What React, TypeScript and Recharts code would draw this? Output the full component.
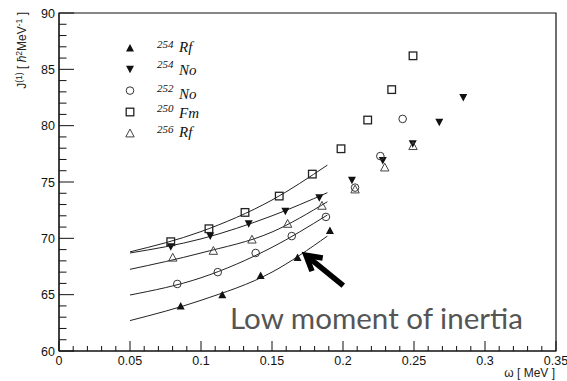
import {
  ComposedChart,
  Legend,
  Line,
  ReferenceArea,
  ReferenceLine,
  Scatter,
  XAxis,
  YAxis,
} from 'recharts'

// ω [MeV], J(1) [ħ² MeV⁻¹]
const rf254: [number, number][] = [
  [0.0857, 64.0], [0.115, 65.0], [0.142, 66.7], [0.168, 68.3], [0.1908, 70.7],
]
const no254: [number, number][] = [
  [0.0787, 69.25], [0.1065, 70.2], [0.1336, 71.3], [0.1594, 72.4], [0.1833, 73.6],
  [0.2063, 75.15], [0.228, 76.9], [0.2491, 78.4], [0.2678, 80.3], [0.2847, 82.5],
]
const no252: [number, number][] = [
  [0.0833, 65.95], [0.1118, 67.0], [0.1385, 68.7], [0.1639, 70.2], [0.188, 71.9],
  [0.2085, 74.5], [0.2263, 77.3], [0.242, 80.6],
]
const fm250: [number, number][] = [
  [0.0787, 69.7], [0.1056, 70.85], [0.131, 72.3], [0.1551, 73.75], [0.1784, 75.7],
  [0.1986, 77.95], [0.2174, 80.5], [0.2343, 83.2], [0.2493, 86.2],
]
const rf256: [number, number][] = [
  [0.0801, 68.3], [0.1087, 68.9], [0.1359, 69.9], [0.161, 71.3], [0.1852, 72.9],
  [0.2085, 74.35], [0.2294, 76.3], [0.2493, 78.2],
]

// fitted curves
const fitRf254: [number, number][] = [[0.05, 62.7], [0.1, 64.5], [0.15, 67.0], [0.189, 70.2]]
const fitNo252: [number, number][] = [[0.05, 64.97], [0.1, 66.5], [0.15, 69.2], [0.189, 72.07]]
const fitRf256: [number, number][] = [[0.05, 67.25], [0.1, 68.7], [0.15, 70.56], [0.189, 73.25]]
const fitNo254: [number, number][] = [[0.05, 68.7], [0.1, 69.95], [0.15, 72.0], [0.189, 74.05]]
const fitFm250: [number, number][] = [[0.05, 68.8], [0.1, 70.6], [0.15, 73.4], [0.189, 76.5]]

const W_MAJOR = [0, 0.05, 0.1, 0.15, 0.2, 0.25, 0.3, 0.35]
const W_TICKS = [
  0, 0.01, 0.02, 0.03, 0.04, 0.05, 0.06, 0.07, 0.08, 0.09, 0.1, 0.11, 0.12,
  0.13, 0.14, 0.15, 0.16, 0.17, 0.18, 0.19, 0.2, 0.21, 0.22, 0.23, 0.24, 0.25,
  0.26, 0.27, 0.28, 0.29, 0.3, 0.31, 0.32, 0.33, 0.34, 0.35,
]
const J_MAJOR = [60, 65, 70, 75, 80, 85, 90]
const J_TICKS = [
  60, 61, 62, 63, 64, 65, 66, 67, 68, 69, 70, 71, 72, 73, 74, 75, 76, 77, 78,
  79, 80, 81, 82, 83, 84, 85, 86, 87, 88, 89, 90,
]

const LEGEND = [
  { mass: '254', el: 'Rf', marker: 'triUp' },
  { mass: '254', el: 'No', marker: 'triDown' },
  { mass: '252', el: 'No', marker: 'circle' },
  { mass: '250', el: 'Fm', marker: 'square' },
  { mass: '256', el: 'Rf', marker: 'triOpen' },
]

const toPts = (arr: [number, number][]) => arr.map(([w, j]) => ({ w, j }))
const isMajor = (list: number[], v: number) => list.some((m) => Math.abs(m - v) < 1e-6)

const AXIS_FONT = '"Liberation Sans", Arial, sans-serif'
const SERIF = '"Liberation Serif", "DejaVu Serif", serif'
const INK = '#111'

function Marker({ kind, cx, cy }: { kind: string; cx: number; cy: number }) {
  if (kind === 'triUp')
    return <polygon points={`${cx - 4},${cy + 3.5} ${cx + 4},${cy + 3.5} ${cx},${cy - 4}`} fill={INK} />
  if (kind === 'triDown')
    return <polygon points={`${cx - 4},${cy - 3.5} ${cx + 4},${cy - 3.5} ${cx},${cy + 4}`} fill={INK} />
  if (kind === 'circle')
    return <circle cx={cx} cy={cy} r={3.8} fill="none" stroke="#333" strokeWidth={1} />
  if (kind === 'square')
    return <rect x={cx - 3.8} y={cy - 3.8} width={7.6} height={7.6} fill="none" stroke="#222" strokeWidth={1.3} />
  return (
    <polygon
      points={`${cx - 4.2},${cy + 3.6} ${cx + 4.2},${cy + 3.6} ${cx},${cy - 4.2}`}
      fill="none"
      stroke="#444"
      strokeWidth={1}
    />
  )
}

const shapeOf = (kind: string) => (p: any) => <Marker kind={kind} cx={p.cx} cy={p.cy} />

function WTick({ x, y, payload }: any) {
  const major = isMajor(W_MAJOR, payload.value)
  return (
    <g>
      <line x1={x} x2={x} y1={y} y2={y - (major ? 10 : 5)} stroke={INK} />
      {major ? (
        <text x={x} y={y + 14} textAnchor="middle" fontSize={12.5} fontFamily={AXIS_FONT} fill={INK}>
          {String(payload.value)}
        </text>
      ) : null}
    </g>
  )
}

function JTick({ x, y, payload }: any) {
  const major = isMajor(J_MAJOR, payload.value)
  return (
    <g>
      <line x1={x} x2={x + (major ? 15 : 7.5)} y1={y} y2={y} stroke={INK} />
      {major ? (
        <text x={x - 4} y={y + 4.5} textAnchor="end" fontSize={12.5} fontFamily={AXIS_FONT} fill={INK}>
          {String(payload.value)}
        </text>
      ) : null}
    </g>
  )
}

function Arrow(props: any) {
  const { x1, y1, x2, y2 } = props
  const dx = x1 - x2
  const dy = y1 - y2
  const len = Math.hypot(dx, dy)
  const ux = dx / len
  const uy = dy / len
  const arm = 17
  const a = (30 * Math.PI) / 180
  const rot = (s: number) => [
    x2 + arm * (ux * Math.cos(s * a) - uy * Math.sin(s * a)),
    y2 + arm * (ux * Math.sin(s * a) + uy * Math.cos(s * a)),
  ]
  const [ax, ay] = rot(1)
  const [bx, by] = rot(-1)
  return (
    <g>
      <line x1={x1} y1={y1} x2={x2 + ux * 3} y2={y2 + uy * 3} stroke="#000" strokeWidth={5.5} />
      <polyline
        points={`${ax},${ay} ${x2},${y2} ${bx},${by}`}
        fill="none"
        stroke="#000"
        strokeWidth={5.5}
        strokeLinejoin="miter"
      />
    </g>
  )
}

// legend rows (page y of marker centres) and text baselines relative to them
const LEGEND_ROW_Y = [48, 69.3, 90.6, 112, 133.3]
const LEGEND_SUP_DY = [0, -1, 1.5, 0, 0]
const LEGEND_MAIN_DY = [4, 6, 8, 6, 4]

function LegendBox() {
  return (
    <svg width={120} height={140} style={{ display: 'block', overflow: 'visible' }}>
      {LEGEND.map((item, i) => {
        const y = LEGEND_ROW_Y[i] - 30
        return (
          <g key={item.mass + item.el}>
            <Marker kind={item.marker} cx={10} cy={y} />
            <text x={37} y={y + LEGEND_SUP_DY[i]} fontSize={11} fontStyle="italic" fontFamily={SERIF} fill={INK}>
              {item.mass}
            </text>
            <text x={59} y={y + LEGEND_MAIN_DY[i]} fontSize={15} fontStyle="italic" fontFamily={SERIF} fill={INK}>
              {item.el}
            </text>
          </g>
        )
      })}
    </svg>
  )
}

export default function App() {
  const fits = [fitRf254, fitNo252, fitRf256, fitNo254, fitFm250]
  return (
    <div style={{ position: 'absolute', left: 0, top: 0, width: 567, height: 381, background: '#fff' }}>
      <ComposedChart width={567} height={381} margin={{ top: 13, right: 11, bottom: 0, left: 0 }}>
        <XAxis
          type="number"
          dataKey="w"
          domain={[0, 0.35]}
          ticks={W_TICKS}
          interval={0}
          tick={<WTick />}
          tickLine={false}
          tickSize={0}
          tickMargin={0}
          height={30}
          axisLine={{ stroke: INK }}
          allowDataOverflow
        />
        <YAxis
          type="number"
          dataKey="j"
          domain={[60, 90]}
          ticks={J_TICKS}
          interval={0}
          tick={<JTick />}
          tickLine={false}
          tickSize={0}
          tickMargin={0}
          width={59}
          axisLine={{ stroke: INK }}
          allowDataOverflow
        />
        <ReferenceArea x1={0} x2={0.35} y1={60} y2={90} fill="none" stroke={INK} strokeWidth={1.2} />
        {fits.map((f, i) => (
          <Line
            key={i}
            data={toPts(f)}
            dataKey="j"
            type="monotone"
            stroke="#222"
            strokeWidth={1}
            dot={false}
            activeDot={false}
            isAnimationActive={false}
          />
        ))}
        <Scatter data={toPts(rf254)} dataKey="j" shape={shapeOf('triUp')} isAnimationActive={false} />
        <Scatter data={toPts(no254)} dataKey="j" shape={shapeOf('triDown')} isAnimationActive={false} />
        <Scatter data={toPts(no252)} dataKey="j" shape={shapeOf('circle')} isAnimationActive={false} />
        <Scatter data={toPts(fm250)} dataKey="j" shape={shapeOf('square')} isAnimationActive={false} />
        <Scatter data={toPts(rf256)} dataKey="j" shape={shapeOf('triOpen')} isAnimationActive={false} />
        <ReferenceLine
          segment={[
            { x: 0.2002, y: 65.8 },
            { x: 0.1739, y: 68.5 },
          ]}
          shape={Arrow}
        />
        <Legend
          layout="vertical"
          align="center"
          verticalAlign="middle"
          wrapperStyle={{ position: 'absolute', left: 120, top: 30, width: 120, height: 140 }}
          content={() => <LegendBox />}
        />
      </ComposedChart>
      <svg
        width={567}
        height={381}
        style={{ position: 'absolute', left: 0, top: 0, pointerEvents: 'none' }}
      >
        <text
          transform="translate(26,12) rotate(-90)"
          textAnchor="end"
          fontSize={12}
          fontFamily={AXIS_FONT}
          fill="#222"
        >
          <tspan>J</tspan>
          <tspan dy={-4.5} fontSize={8.5}>(1)</tspan>
          <tspan dy={4.5}> [ </tspan>
          <tspan fontStyle="italic">ħ</tspan>
          <tspan dy={-4.5} fontSize={8.5}>2</tspan>
          <tspan dy={4.5}>MeV</tspan>
          <tspan dy={-4.5} fontSize={8.5}>-1</tspan>
          <tspan dy={4.5}> ]</tspan>
        </text>
        <text x={555} y={377} textAnchor="end" fontSize={12} fontFamily={AXIS_FONT} fill="#222">
          ω [ MeV ]
        </text>
        <text
          x={230}
          y={329}
          fontSize={28.7}
          fontFamily="Lato, 'Open Sans', sans-serif"
          fill="#555"
          textLength={293}
          lengthAdjust="spacingAndGlyphs"
        >
          Low moment of inertia
        </text>
      </svg>
    </div>
  )
}
